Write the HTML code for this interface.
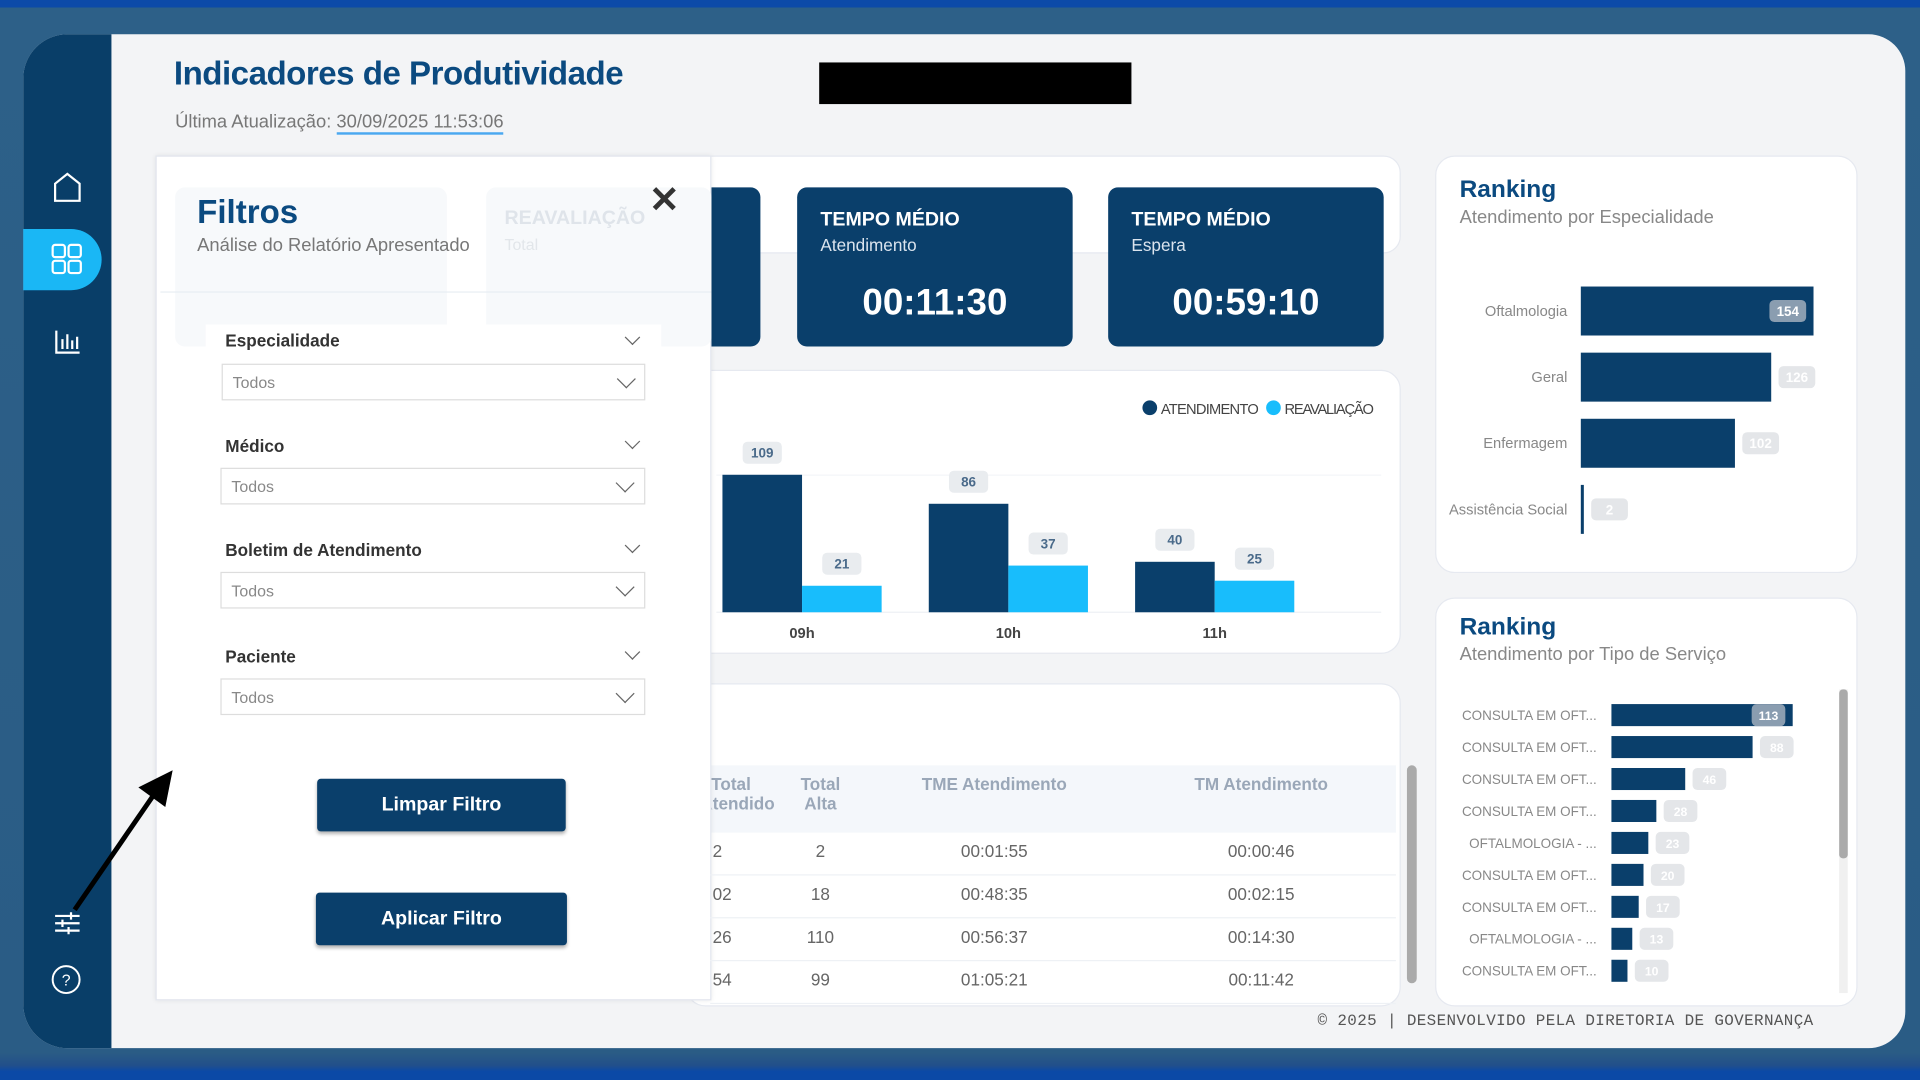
<!DOCTYPE html>
<html><head><meta charset="utf-8">
<style>
*{box-sizing:border-box;margin:0;padding:0}
body{width:1920px;height:1080px;overflow:hidden;background:#2b5f86;font-family:"Liberation Sans",sans-serif}
#stage{position:absolute;left:0;top:0;width:1568px;height:882px;transform:scale(1.22449);transform-origin:0 0;background:linear-gradient(180deg,#0c4aa8 0,#0c4aa8 6px,#2d6088 6px,#2a5c85 860px,#224f8a 870px,#0b49a6 875px)}
.abs{position:absolute}
.card{position:absolute;background:#fff;border-radius:16px;border:1px solid #e6e9f0}
.kpi{position:absolute;background:#0a3f6b;border-radius:8px;color:#fff}
.kpi .t{position:absolute;left:19px;top:18px;font-weight:bold;font-size:16px}
.kpi .s{position:absolute;left:19px;top:39px;font-size:14px;color:#dbe4ee}
.kpi .v{position:absolute;left:0;right:0;top:78px;text-align:center;font-weight:bold;font-size:30px}
.flabel{position:absolute;left:184px;font-size:14px;font-weight:bold;color:#333}
.fsel{position:absolute;left:180px;width:347px;height:30px;border:1px solid #ddd;background:#fff;font-size:13px;color:#888;padding:7px 8px}
.chev{position:absolute;width:9px;height:9px;border-right:1.5px solid #666;border-bottom:1.5px solid #666;transform:rotate(45deg)}
.btn{position:absolute;background:#0a3f6b;color:#fff;font-size:16px;font-weight:bold;text-align:center;border-radius:3px;box-shadow:0 2px 3px rgba(0,0,0,.3)}
.th{position:absolute;font-size:14px;font-weight:bold;color:#9aa7b8;text-align:center}
.td{position:absolute;font-size:14px;color:#666;text-align:center}
</style></head><body>
<div id="stage">
  <div class="abs" style="left:19px;top:28px;width:1537px;height:828px;background:#f3f4f6;border-radius:36px 30px 30px 36px"></div>
  <div class="abs" style="left:19px;top:28px;width:72px;height:828px;background:#093e68;border-radius:36px 0 0 36px"></div>
  <svg class="abs" style="left:40px;top:138px" width="30" height="30"><path d="M5 12 L15 4 L25 12 V26 H5 Z" fill="none" stroke="#fff" stroke-width="1.8"/></svg>
  <div class="abs" style="left:19px;top:187px;width:64px;height:50px;background:#1ab7f5;border-radius:0 25px 25px 0"></div>
  <svg class="abs" style="left:41px;top:198px" width="28" height="28"><g fill="none" stroke="#fff" stroke-width="1.8"><rect x="2" y="2" width="10" height="10" rx="2"/><rect x="15" y="2" width="10" height="10" rx="2"/><rect x="2" y="15" width="10" height="10" rx="2"/><rect x="15" y="15" width="10" height="10" rx="2"/></g></svg>
  <svg class="abs" style="left:43px;top:267px" width="24" height="24"><g stroke="#fff" stroke-width="1.8" fill="none"><path d="M3 3V21H22"/><path d="M8 18V10M12 18V6M16 18V11M20 18V8"/></g></svg>
  <svg class="abs" style="left:43px;top:742px" width="24" height="24"><g stroke="#fff" stroke-width="1.8"><path d="M2 6H22M2 12H22M2 18H22"/><path d="M15 3V9M8 9V15M13 15V21"/></g></svg>
  <svg class="abs" style="left:41px;top:787px" width="26" height="26"><circle cx="13" cy="13" r="11" fill="none" stroke="#fff" stroke-width="1.6"/><text x="13" y="18" fill="#fff" font-size="13" text-anchor="middle" font-family="Liberation Sans">?</text></svg>

  <div class="abs" style="left:142px;top:45px;font-size:27px;letter-spacing:-0.4px;font-weight:bold;color:#0b4a80">Indicadores de Produtividade</div>
  <div class="abs" style="left:143px;top:91px;font-size:15px;color:#777">Última Atualização: <span style="border-bottom:2px solid #4aa8f0">30/09/2025 11:53:06</span></div>
  <div class="abs" style="left:669px;top:51px;width:255px;height:34px;background:#000"></div>

  <div class="card" style="left:580px;top:127px;width:564px;height:80px;border-radius:0 14px 14px 0"></div>
  <div class="kpi" style="left:560px;top:153px;width:61px;height:130px"></div>
  <div class="kpi" style="left:651px;top:153px;width:225px;height:130px"><div class="t">TEMPO MÉDIO</div><div class="s">Atendimento</div><div class="v">00:11:30</div></div>
  <div class="kpi" style="left:905px;top:153px;width:225px;height:130px"><div class="t">TEMPO MÉDIO</div><div class="s">Espera</div><div class="v">00:59:10</div></div>

  <div class="card" style="left:560px;top:302px;width:584px;height:232px"></div>
  <svg class="abs" id="hourChart" style="left:0;top:0" width="1568" height="882"></svg>

  <div class="card" style="left:560px;top:558px;width:584px;height:264px"></div>
  <div class="abs" style="left:580px;top:625px;width:560px;height:55px;background:#f4f7fb"></div>
  <div class="th" style="left:572px;top:632px;width:50px">Total<br>Atendido</div>
  <div class="th" style="left:640px;top:632px;width:60px">Total<br>Alta</div>
  <div class="th" style="left:712px;top:632px;width:200px">TME Atendimento</div>
  <div class="th" style="left:930px;top:632px;width:200px">TM Atendimento</div>
  <div id="tbody"></div>
  <div class="abs" style="left:1149px;top:625px;width:8px;height:178px;background:#aaa;border-radius:4px"></div>

  <div class="card" style="left:1172px;top:127px;width:345px;height:341px"></div>
  <div class="abs" style="left:1192px;top:144px;font-size:20px;font-weight:bold;color:#0b4a80">Ranking</div>
  <div class="abs" style="left:1192px;top:169px;font-size:15px;color:#888">Atendimento por Especialidade</div>
  <div class="card" style="left:1172px;top:488px;width:345px;height:334px"></div>
  <div class="abs" style="left:1192px;top:501px;font-size:20px;font-weight:bold;color:#0b4a80">Ranking</div>
  <div class="abs" style="left:1192px;top:526px;font-size:15px;color:#888">Atendimento por Tipo de Serviço</div>
  <div class="abs" style="left:1502px;top:563px;width:7px;height:248px;background:#f0f0f0"></div>
  <div class="abs" style="left:1502px;top:563px;width:7px;height:138px;background:#aaa;border-radius:3px"></div>
  <svg class="abs" id="rankChart" style="left:0;top:0" width="1568" height="882"></svg>

  <div class="abs" style="left:1076px;top:826px;width:427px;overflow:hidden;white-space:nowrap;font-family:'Liberation Mono',monospace;font-size:13px;letter-spacing:0.3px;color:#555">© 2025 | DESENVOLVIDO PELA DIRETORIA DE GOVERNANÇA</div>

  <!-- filter panel -->
  <div class="abs" style="left:127px;top:127px;width:454px;height:690px;background:#fff;border:1px solid #e2e6ee;box-shadow:0 0 4px rgba(0,0,0,.08)"></div>
  <div class="abs" style="left:143px;top:153px;width:222px;height:130px;background:#f7f9fb;border-radius:8px"></div>
  <div class="abs" style="left:397px;top:153px;width:184px;height:130px;background:#f7f9fb;border-radius:8px"></div>
  <div class="abs" style="left:412px;top:170px;font-size:16px;font-weight:bold;color:#dfe4ea">REAVALIAÇÃO</div>
  <div class="abs" style="left:412px;top:192px;font-size:13px;color:#e2e6ea">Total</div>
  <div class="abs" style="left:131px;top:238px;width:450px;height:1px;background:#e8edf3"></div>
  <div class="abs" style="left:168px;top:265px;width:372px;height:330px;background:#fff"></div>
  <div class="abs" style="left:161px;top:158px;font-size:27px;font-weight:bold;color:#0b4a80">Filtros</div>
  <div class="abs" style="left:161px;top:192px;font-size:15px;color:#777">Análise do Relatório Apresentado</div>
  <div class="abs" style="left:530px;top:146px;font-size:30px;color:#333;font-weight:bold">✕</div>

  <div class="flabel" style="top:270px">Especialidade</div>
  <div class="chev" style="left:512px;top:271px"></div>
  <div class="fsel" style="top:297px;left:181px;width:346px">Todos<div class="chev" style="left:324px;top:6px;width:11px;height:11px"></div></div>
  <div class="flabel" style="top:356px">Médico</div>
  <div class="chev" style="left:512px;top:356px"></div>
  <div class="fsel" style="top:382px">Todos<div class="chev" style="left:324px;top:6px;width:11px;height:11px"></div></div>
  <div class="flabel" style="top:441px">Boletim de Atendimento</div>
  <div class="chev" style="left:512px;top:441px"></div>
  <div class="fsel" style="top:467px">Todos<div class="chev" style="left:324px;top:6px;width:11px;height:11px"></div></div>
  <div class="flabel" style="top:528px">Paciente</div>
  <div class="chev" style="left:512px;top:528px"></div>
  <div class="fsel" style="top:554px">Todos<div class="chev" style="left:324px;top:6px;width:11px;height:11px"></div></div>
  <div class="btn" style="left:259px;top:636px;width:203px;height:43px;line-height:43px">Limpar Filtro</div>
  <div class="btn" style="left:258px;top:729px;width:205px;height:43px;line-height:43px">Aplicar Filtro</div>
  <svg class="abs" style="left:55px;top:625px" width="90" height="125"><path d="M6 118 L72 22" stroke="#000" stroke-width="4"/><path d="M86 4 L58 18 L80 34 Z" fill="#000"/></svg>
</div>
<script>
const hours=['09h','10h','11h'];
const atendimento=[109,86,40];
const reavaliacao=[21,37,25];
const esp=['Oftalmologia','Geral','Enfermagem','Assistência Social'];
const espVals=[154,126,102,2];
const serv=['CONSULTA EM OFT...','CONSULTA EM OFT...','CONSULTA EM OFT...','CONSULTA EM OFT...','OFTALMOLOGIA - ...','CONSULTA EM OFT...','CONSULTA EM OFT...','OFTALMOLOGIA - ...','CONSULTA EM OFT...'];
const servVals=[113,88,46,28,23,20,17,13,10];
const rowsAtendido=['2','02','26','54'];
const rowsAlta=['2','18','110','99'];
const rowsTME=['00:01:55','00:48:35','00:56:37','01:05:21'];
const rowsTM=['00:00:46','00:02:15','00:14:30','00:11:42'];
const NS='http://www.w3.org/2000/svg';
function mk(p,tag,a,txt){const e=document.createElementNS(NS,tag);for(const k in a)e.setAttribute(k,a[k]);if(txt!==undefined)e.textContent=txt;p.appendChild(e);return e;}
const F='Liberation Sans';
const hc=document.getElementById('hourChart');
const base=500, yS=v=>v*1.03, xC=i=>655+i*168.5, bw=65;
mk(hc,'line',{x1:585,x2:1128,y1:base,y2:base,stroke:'#eef1f5'});
mk(hc,'line',{x1:585,x2:1128,y1:388,y2:388,stroke:'#f4f6f8'});
hours.forEach((h,i)=>{
  const x=xC(i);
  const a=mk(hc,'rect',{x:x-bw,y:base-yS(atendimento[i]),width:bw,height:yS(atendimento[i]),fill:'#0a3f6b'});
  
  
  const r=mk(hc,'rect',{x:x,y:base-yS(reavaliacao[i]),width:bw,height:yS(reavaliacao[i]),fill:'#18bdfc'});
  
  
  [[x-bw/2,atendimento[i]],[x+bw/2,reavaliacao[i]]].forEach(([cx,v])=>{
    const by=base-yS(v)-27;
    mk(hc,'rect',{x:cx-16,y:by,width:32,height:18,rx:4,fill:'#e9ecef'});
    const t=mk(hc,'text',{x:cx,y:by+13,'text-anchor':'middle','font-size':11,'font-weight':'bold',fill:'#4a6a8a','font-family':F},v);
    
    
  });
  const l=mk(hc,'text',{x:x,y:521,'text-anchor':'middle','font-size':12,'font-weight':'bold',fill:'#444','font-family':F},h);
  
  
});
const lg=mk(hc,'g',{});


mk(lg,'circle',{cx:939,cy:333,r:6,fill:'#0a3f6b'});
mk(lg,'text',{x:948,y:338,'font-size':12,'textLength':80,fill:'#444','font-family':F},'ATENDIMENTO');
mk(lg,'circle',{cx:1040,cy:333,r:6,fill:'#18bdfc'});
mk(lg,'text',{x:1049,y:338,'font-size':12,'textLength':73,fill:'#444','font-family':F},'REAVALIAÇÃO');
const rc=document.getElementById('rankChart');
function hbar(labels,vals,x0,y0,step,h,k,lx,fs,prefix){
  labels.forEach((lab,i)=>{
    const cy=y0+i*step, w=Math.max(vals[i]*k,2);
    const t=mk(rc,'text',{x:lx,y:cy+4,'text-anchor':'end','font-size':fs,fill:'#888','font-family':F},lab);
    
    
    const b=mk(rc,'rect',{x:x0,y:cy-h/2,width:w,height:h,fill:'#0a3f6b'});
    
    
    const inside=i===0, bwid=fs*2.5;
    const bx=inside? x0+w-bwid-6 : x0+w+6;
    mk(rc,'rect',{x:bx,y:cy-9,width:bwid,height:18,rx:4,fill:inside?'#8a9db0':'#e4e6e9'});
    const v=mk(rc,'text',{x:bx+bwid/2,y:cy+4,'text-anchor':'middle','font-size':fs-1,'font-weight':'bold',fill:'#fff','font-family':F},vals[i]);
    
    
  });
}
hbar(esp,espVals,1291,254,54,40,1.234,1280,12,'rank-especialidade');
hbar(serv,servVals,1316,584,26.1,18,1.31,1304,11,'rank-servico');
const tb=document.getElementById('tbody');
rowsAtendido.forEach((r,i)=>{
  const y=687+i*35;
  const line=document.createElement('div');
  line.className='abs';line.style.cssText=`left:580px;top:${y+27}px;width:560px;height:1px;background:#eef1f5`;
  
  
  tb.appendChild(line);
  [[572,50,r],[640,60,rowsAlta[i]],[712,200,rowsTME[i]],[930,200,rowsTM[i]]].forEach(([x,w,t])=>{
    const d=document.createElement('div');d.className='td';
    d.style.cssText=`left:${x}px;top:${y}px;width:${w}px;${x===572?'text-align:left;padding-left:10px':''}`;
    d.textContent=t;
    
    
    tb.appendChild(d);
  });
});
document.getElementById('stage').appendChild(tb);
</script>
</body></html>
